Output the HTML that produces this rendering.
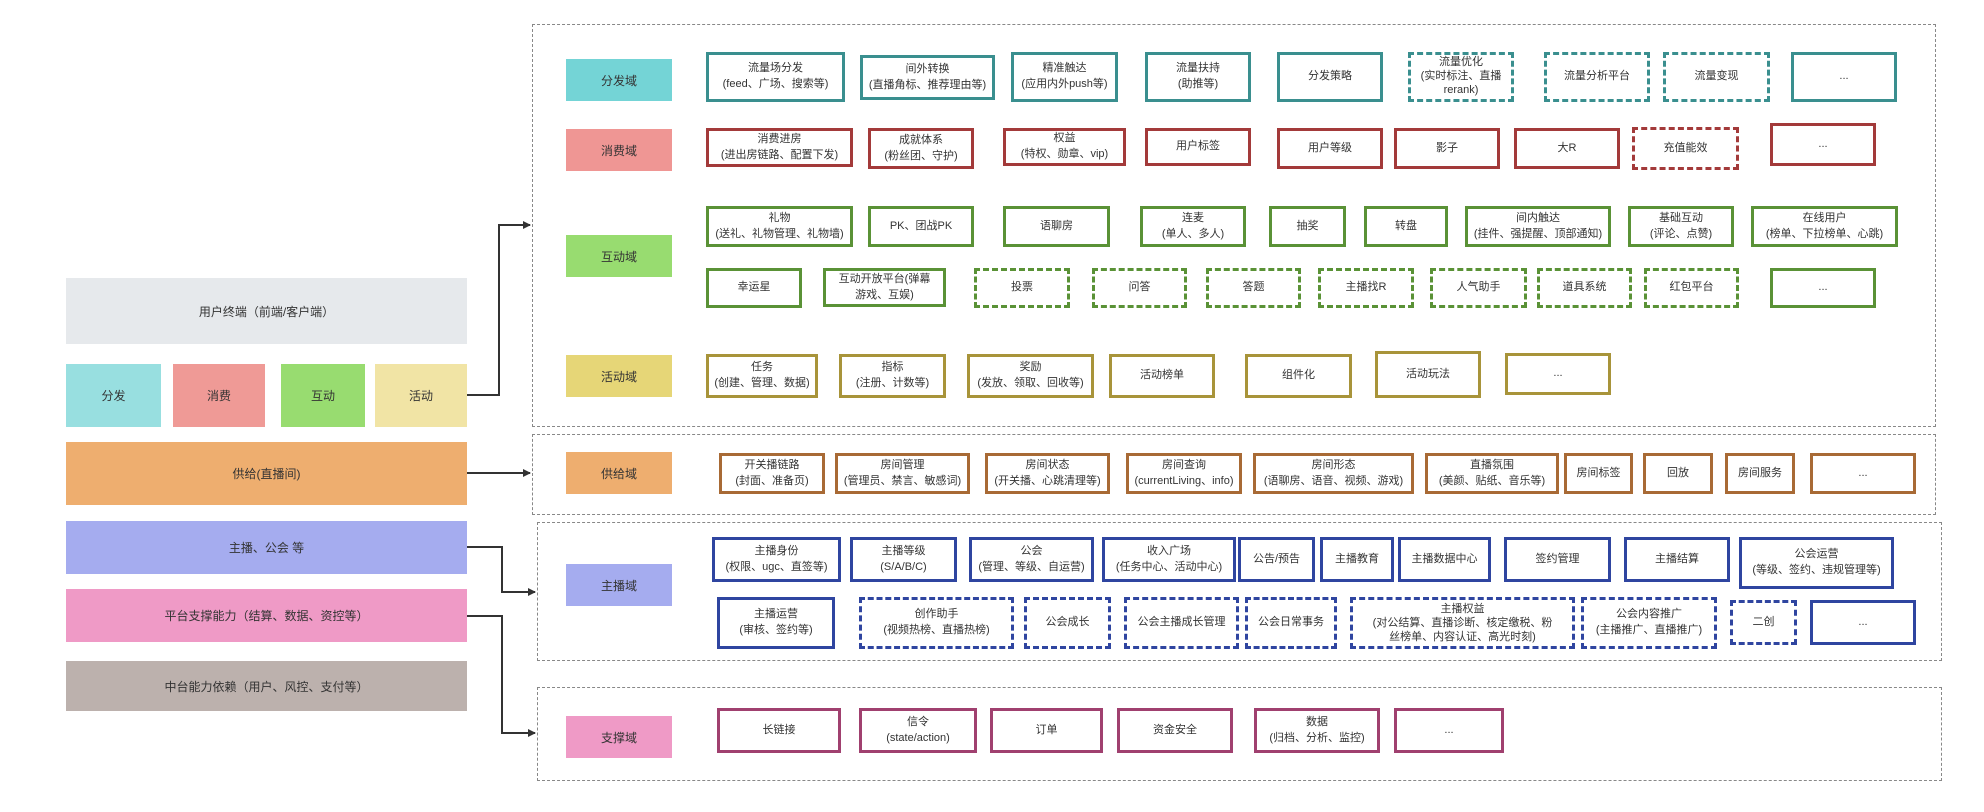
<!DOCTYPE html>
<html><head><meta charset="utf-8"><style>
body{margin:0;width:1984px;height:812px;background:#fff;position:relative;overflow:hidden;font-family:"Liberation Sans","Noto Sans CJK SC",sans-serif;color:#333}
.b{position:absolute;box-sizing:border-box;display:flex;align-items:center;justify-content:center;text-align:center;font-size:11px;line-height:1.45;background:#fff;border-width:3px;border-style:solid}
.d{border-style:dashed}
.f{position:absolute;display:flex;align-items:center;justify-content:center;text-align:center;font-size:12px}
.c{position:absolute;box-sizing:border-box;border:1px dashed #888}
.t{border-color:#3a8f8f}.r{border-color:#a33a3a}.g{border-color:#5a9236}.o{border-color:#a8943a}.w{border-color:#a86a35}.u{border-color:#2f45a0}.m{border-color:#a0406f}
</style></head><body>
<div class="f" style="left:66px;top:278px;width:401px;height:66px;background:#e6e9ec">用户终端（前端/客户端）</div>
<div class="f" style="left:66px;top:364px;width:95px;height:63px;background:#98dfe0">分发</div>
<div class="f" style="left:173px;top:364px;width:92px;height:63px;background:#ef9a96">消费</div>
<div class="f" style="left:281px;top:364px;width:84px;height:63px;background:#98dc70">互动</div>
<div class="f" style="left:375px;top:364px;width:92px;height:63px;background:#f1e4a5">活动</div>
<div class="f" style="left:66px;top:442px;width:401px;height:63px;background:#eeae6f">供给(直播间)</div>
<div class="f" style="left:66px;top:521px;width:401px;height:53px;background:#a5acef">主播、公会 等</div>
<div class="f" style="left:66px;top:589px;width:401px;height:53px;background:#ef9ac6">平台支撑能力（结算、数据、资控等）</div>
<div class="f" style="left:66px;top:661px;width:401px;height:50px;background:#bcb1ad">中台能力依赖（用户、风控、支付等）</div>

<svg style="position:absolute;left:0;top:0" width="1984" height="812">
<defs><marker id="a" markerWidth="8" markerHeight="8" refX="7" refY="4" orient="auto" markerUnits="userSpaceOnUse"><path d="M0,0 L8,4 L0,8 z" fill="#333"/></marker></defs>
<g fill="none" stroke="#333" stroke-width="2">
<path d="M467,395 H499 V225 H530" marker-end="url(#a)"/>
<path d="M467,473 H530" marker-end="url(#a)"/>
<path d="M467,547 H502 V592 H535" marker-end="url(#a)"/>
<path d="M467,616 H502 V733 H535" marker-end="url(#a)"/>
</g></svg>

<div class="c" style="left:532px;top:24px;width:1404px;height:403px"></div>
<div class="c" style="left:532px;top:434px;width:1404px;height:81px"></div>
<div class="c" style="left:537px;top:522px;width:1405px;height:139px"></div>
<div class="c" style="left:537px;top:687px;width:1405px;height:94px"></div>

<div class="f" style="left:566px;top:59px;width:106px;height:42px;background:#74d4d6">分发域</div>
<div class="f" style="left:566px;top:129px;width:106px;height:42px;background:#ef9694">消费域</div>
<div class="f" style="left:566px;top:235px;width:106px;height:42px;background:#98dc70">互动域</div>
<div class="f" style="left:566px;top:355px;width:106px;height:42px;background:#e6d677">活动域</div>
<div class="f" style="left:566px;top:452px;width:106px;height:42px;background:#eeae6f">供给域</div>
<div class="f" style="left:566px;top:564px;width:106px;height:42px;background:#a5acef">主播域</div>
<div class="f" style="left:566px;top:716px;width:106px;height:42px;background:#ef9ac6">支撑域</div>

<!-- 分发 -->
<div class="b t" style="left:706px;top:52px;width:139px;height:50px">流量场分发<br>(feed、广场、搜索等)</div>
<div class="b t" style="left:860px;top:55px;width:135px;height:45px">间外转换<br>(直播角标、推荐理由等)</div>
<div class="b t" style="left:1011px;top:52px;width:107px;height:50px">精准触达<br>(应用内外push等)</div>
<div class="b t" style="left:1145px;top:52px;width:106px;height:50px">流量扶持<br>(助推等)</div>
<div class="b t" style="left:1277px;top:52px;width:106px;height:50px">分发策略</div>
<div class="b t d" style="left:1408px;top:52px;width:106px;height:50px;line-height:1.25">流量优化<br>(实时标注、直播<br>rerank)</div>
<div class="b t d" style="left:1544px;top:52px;width:106px;height:50px">流量分析平台</div>
<div class="b t d" style="left:1663px;top:52px;width:107px;height:50px">流量变现</div>
<div class="b t" style="left:1791px;top:52px;width:106px;height:50px">...</div>

<!-- 消费 -->
<div class="b r" style="left:706px;top:128px;width:147px;height:39px">消费进房<br>(进出房链路、配置下发)</div>
<div class="b r" style="left:868px;top:128px;width:106px;height:41px">成就体系<br>(粉丝团、守护)</div>
<div class="b r" style="left:1003px;top:128px;width:123px;height:38px">权益<br>(特权、勋章、vip)</div>
<div class="b r" style="left:1145px;top:128px;width:106px;height:38px">用户标签</div>
<div class="b r" style="left:1277px;top:128px;width:106px;height:41px">用户等级</div>
<div class="b r" style="left:1394px;top:128px;width:106px;height:41px">影子</div>
<div class="b r" style="left:1514px;top:128px;width:106px;height:41px">大R</div>
<div class="b r d" style="left:1632px;top:127px;width:107px;height:43px">充值能效</div>
<div class="b r" style="left:1770px;top:123px;width:106px;height:43px">...</div>

<!-- 互动 row1 -->
<div class="b g" style="left:706px;top:206px;width:147px;height:41px">礼物<br>(送礼、礼物管理、礼物墙)</div>
<div class="b g" style="left:868px;top:206px;width:106px;height:41px">PK、团战PK</div>
<div class="b g" style="left:1003px;top:206px;width:107px;height:41px">语聊房</div>
<div class="b g" style="left:1140px;top:206px;width:106px;height:41px">连麦<br>(单人、多人)</div>
<div class="b g" style="left:1269px;top:206px;width:77px;height:41px">抽奖</div>
<div class="b g" style="left:1364px;top:206px;width:84px;height:41px">转盘</div>
<div class="b g" style="left:1465px;top:206px;width:146px;height:41px">间内触达<br>(挂件、强提醒、顶部通知)</div>
<div class="b g" style="left:1628px;top:206px;width:106px;height:41px">基础互动<br>(评论、点赞)</div>
<div class="b g" style="left:1751px;top:206px;width:147px;height:41px">在线用户<br>(榜单、下拉榜单、心跳)</div>
<!-- 互动 row2 -->
<div class="b g" style="left:706px;top:268px;width:96px;height:40px">幸运星</div>
<div class="b g" style="left:823px;top:268px;width:123px;height:39px">互动开放平台(弹幕<br>游戏、互娱)</div>
<div class="b g d" style="left:974px;top:268px;width:96px;height:40px">投票</div>
<div class="b g d" style="left:1092px;top:268px;width:95px;height:40px">问答</div>
<div class="b g d" style="left:1206px;top:268px;width:95px;height:40px">答题</div>
<div class="b g d" style="left:1318px;top:268px;width:96px;height:40px">主播找R</div>
<div class="b g d" style="left:1430px;top:268px;width:97px;height:40px">人气助手</div>
<div class="b g d" style="left:1537px;top:268px;width:95px;height:40px">道具系统</div>
<div class="b g d" style="left:1644px;top:268px;width:95px;height:40px">红包平台</div>
<div class="b g" style="left:1770px;top:268px;width:106px;height:40px">...</div>

<!-- 活动 -->
<div class="b o" style="left:706px;top:354px;width:112px;height:44px">任务<br>(创建、管理、数据)</div>
<div class="b o" style="left:839px;top:354px;width:107px;height:44px">指标<br>(注册、计数等)</div>
<div class="b o" style="left:967px;top:354px;width:127px;height:44px">奖励<br>(发放、领取、回收等)</div>
<div class="b o" style="left:1109px;top:354px;width:106px;height:44px">活动榜单</div>
<div class="b o" style="left:1245px;top:354px;width:107px;height:44px">组件化</div>
<div class="b o" style="left:1375px;top:351px;width:106px;height:47px">活动玩法</div>
<div class="b o" style="left:1505px;top:353px;width:106px;height:42px">...</div>

<!-- 供给 -->
<div class="b w" style="left:719px;top:453px;width:106px;height:41px">开关播链路<br>(封面、准备页)</div>
<div class="b w" style="left:835px;top:453px;width:135px;height:41px">房间管理<br>(管理员、禁言、敏感词)</div>
<div class="b w" style="left:985px;top:453px;width:125px;height:41px">房间状态<br>(开关播、心跳清理等)</div>
<div class="b w" style="left:1126px;top:453px;width:116px;height:41px">房间查询<br>(currentLiving、info)</div>
<div class="b w" style="left:1253px;top:453px;width:161px;height:41px">房间形态<br>(语聊房、语音、视频、游戏)</div>
<div class="b w" style="left:1425px;top:453px;width:134px;height:41px">直播氛围<br>(美颜、贴纸、音乐等)</div>
<div class="b w" style="left:1564px;top:453px;width:69px;height:41px">房间标签</div>
<div class="b w" style="left:1643px;top:453px;width:70px;height:41px">回放</div>
<div class="b w" style="left:1725px;top:453px;width:70px;height:41px">房间服务</div>
<div class="b w" style="left:1810px;top:453px;width:106px;height:41px">...</div>

<!-- 主播 row1 -->
<div class="b u" style="left:712px;top:537px;width:129px;height:45px">主播身份<br>(权限、ugc、直签等)</div>
<div class="b u" style="left:850px;top:537px;width:107px;height:45px">主播等级<br>(S/A/B/C)</div>
<div class="b u" style="left:969px;top:537px;width:125px;height:45px">公会<br>(管理、等级、自运营)</div>
<div class="b u" style="left:1102px;top:537px;width:134px;height:45px">收入广场<br>(任务中心、活动中心)</div>
<div class="b u" style="left:1238px;top:537px;width:77px;height:45px">公告/预告</div>
<div class="b u" style="left:1320px;top:537px;width:74px;height:45px">主播教育</div>
<div class="b u" style="left:1398px;top:537px;width:93px;height:45px">主播数据中心</div>
<div class="b u" style="left:1504px;top:537px;width:107px;height:45px">签约管理</div>
<div class="b u" style="left:1624px;top:537px;width:106px;height:45px">主播结算</div>
<div class="b u" style="left:1739px;top:537px;width:155px;height:52px">公会运营<br>(等级、签约、违规管理等)</div>
<!-- 主播 row2 -->
<div class="b u" style="left:717px;top:597px;width:118px;height:52px">主播运营<br>(审核、签约等)</div>
<div class="b u d" style="left:859px;top:597px;width:155px;height:52px">创作助手<br>(视频热榜、直播热榜)</div>
<div class="b u d" style="left:1024px;top:597px;width:87px;height:52px">公会成长</div>
<div class="b u d" style="left:1124px;top:597px;width:115px;height:52px">公会主播成长管理</div>
<div class="b u d" style="left:1245px;top:597px;width:92px;height:52px">公会日常事务</div>
<div class="b u d" style="left:1350px;top:597px;width:225px;height:52px;line-height:1.3">主播权益<br>(对公结算、直播诊断、核定缴税、粉<br>丝榜单、内容认证、高光时刻)</div>
<div class="b u d" style="left:1581px;top:597px;width:136px;height:52px">公会内容推广<br>(主播推广、直播推广)</div>
<div class="b u d" style="left:1730px;top:600px;width:67px;height:45px">二创</div>
<div class="b u" style="left:1810px;top:600px;width:106px;height:45px">...</div>

<!-- 支撑 -->
<div class="b m" style="left:717px;top:708px;width:124px;height:45px">长链接</div>
<div class="b m" style="left:859px;top:708px;width:118px;height:45px">信令<br>(state/action)</div>
<div class="b m" style="left:990px;top:708px;width:113px;height:45px">订单</div>
<div class="b m" style="left:1117px;top:708px;width:116px;height:45px">资金安全</div>
<div class="b m" style="left:1254px;top:708px;width:126px;height:45px">数据<br>(归档、分析、监控)</div>
<div class="b m" style="left:1394px;top:708px;width:110px;height:45px">...</div>
</body></html>
